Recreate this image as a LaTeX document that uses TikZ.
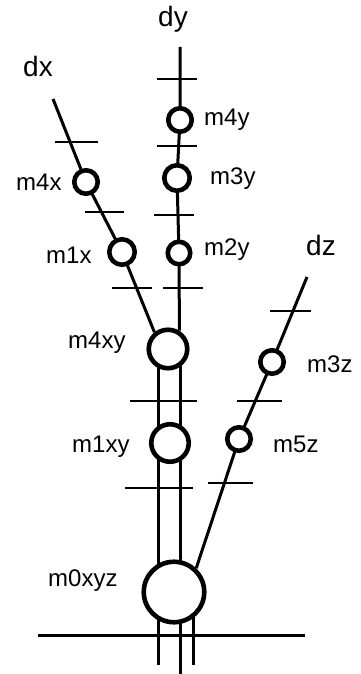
\documentclass[tikz,border=0pt]{standalone}
\usepackage{fontspec}
\setmainfont{Liberation Sans}
\usetikzlibrary{backgrounds}
\begin{document}
\begin{tikzpicture}[x=1pt,y=-1pt,
  ring/.style={circle,draw,fill=white,line width=4.6pt,inner sep=0pt},
  mlabel/.style={anchor=base west,inner sep=0pt,font=\fontsize{24}{28}\selectfont},
  dlabel/.style={anchor=base west,inner sep=0pt,font=\fontsize{28}{32}\selectfont},
  wire/.style={line width=3pt},
  tickmark/.style={line width=2.2pt}]
\useasboundingbox (0,0) rectangle (361,674);
% rings
\node[ring,minimum size=23.5pt] (m4y) at (180,120) {};
\node[ring,minimum size=25.5pt] (m3y) at (177,178) {};
\node[ring,minimum size=22.5pt] (m2y) at (179,253) {};
\node[ring,minimum size=23.5pt] (m4x) at (86,182) {};
\node[ring,minimum size=25.5pt] (m1x) at (122,252) {};
\node[ring,minimum size=38.5pt] (m4xy) at (168,349) {};
\node[ring,minimum size=23.5pt] (m3z) at (272,362) {};
\node[ring,minimum size=37.5pt] (m1xy) at (170,443) {};
\node[ring,minimum size=23.5pt] (m5z) at (239,439) {};
\node[ring,minimum size=60.5pt] (m0xyz) at (174,592) {};
% labels
\node[dlabel] (ldy) at (158,27) {dy};
\node[dlabel] (ldx) at (23,77) {dx};
\node[dlabel] (ldz) at (306,255) {dz};
\node[mlabel] (lm4y) at (204,125) {m4y};
\node[mlabel] (lm3y) at (210,184) {m3y};
\node[mlabel] (lm4x) at (16,190) {m4x};
\node[mlabel] (lm1x) at (46,263) {m1x};
\node[mlabel] (lm2y) at (204,255) {m2y};
\node[mlabel] (lm4xy) at (68,348) {m4xy};
\node[mlabel] (lm3z) at (307,372) {m3z};
\node[mlabel] (lm1xy) at (72,452) {m1xy};
\node[mlabel] (lm5z) at (273,452) {m5z};
\node[mlabel] (lm0xyz) at (48,586) {m0xyz};
% free ends
\coordinate (dytop) at (180,47);
\coordinate (dxtop) at (53,99);
\coordinate (dztop) at (307,277);
\coordinate (b1) at (158,665);
\coordinate (b2) at (180,674);
\coordinate (b3) at (193,665);
\coordinate (baseL) at (38,635);
\coordinate (baseR) at (305,635);
\begin{pgfonlayer}{background}
  \draw[wire] (dytop) -- (m4y.center) -- (m3y.center) -- (m2y.center) -- (m4xy.58);
  \draw[wire] (dxtop) -- (m4x.center) -- (m1x.center) -- (m4xy.129);
  \draw[wire] (dztop) -- (m3z.center) -- (m5z.center) -- (m0xyz.47);
  \draw[wire] ([xshift=-10pt]m4xy.center) -- ([xshift=-12pt]m1xy.center) -- ([xshift=-16pt]m0xyz.center) -- (b1);
  \draw[wire] ([xshift=12pt]m4xy.center) -- ([xshift=10pt]m1xy.center) -- ([xshift=6pt]m0xyz.center) -- (b2);
  \draw[wire] ([xshift=19pt]m0xyz.center) -- (b3);
  \draw[wire] (baseL) -- (baseR);
  % ticks
  \draw[tickmark] (157,79) -- (197,79);
  \draw[tickmark] (157,146) -- (197,146);
  \draw[tickmark] (154,215) -- (194,215);
  \draw[tickmark] (55,142) -- (98,142);
  \draw[tickmark] (85,212) -- (124,212);
  \draw[tickmark] (112,288) -- (152,288);
  \draw[tickmark] (163,288) -- (203,288);
  \draw[tickmark] (270,311) -- (311,311);
  \draw[tickmark] (130,401) -- (197,401);
  \draw[tickmark] (237,401) -- (282,401);
  \draw[tickmark] (125,488) -- (193,488);
  \draw[tickmark] (208,483) -- (253,483);
\end{pgfonlayer}
\end{tikzpicture}
\end{document}
